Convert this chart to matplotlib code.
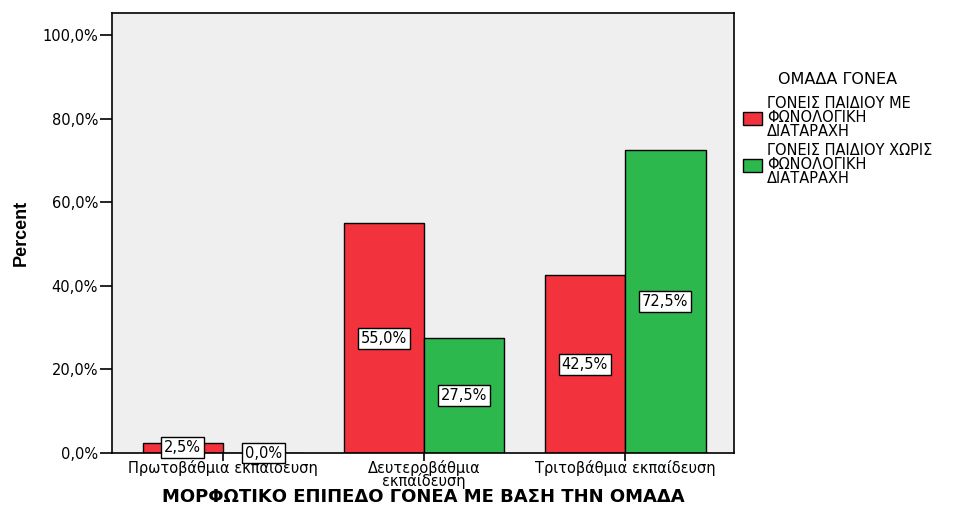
import matplotlib
matplotlib.use("Agg")
import matplotlib.pyplot as plt
import numpy as np
from matplotlib.ticker import FuncFormatter

plt.rcParams['font.family'] = ['DejaVu Sans']

categories = ["Πρωτοβάθμια εκπαίδευση", "Δευτεροβάθμια\nεκπαίδευση", "Τριτοβάθμια εκπαίδευση"]
with_disorder = [2.5, 55.0, 42.5]
without_disorder = [0.0, 27.5, 72.5]
series_labels = ["ΓΟΝΕΙΣ ΠΑΙΔΙΟΥ ΜΕ\nΦΩΝΟΛΟΓΙΚΗ\nΔΙΑΤΑΡΑΧΗ",
                 "ΓΟΝΕΙΣ ΠΑΙΔΙΟΥ ΧΩΡΙΣ\nΦΩΝΟΛΟΓΙΚΗ\nΔΙΑΤΑΡΑΧΗ"]
legend_title = "ΟΜΑΔΑ ΓΟΝΕΑ"
x_title = "ΜΟΡΦΩΤΙΚΟ ΕΠΙΠΕΔΟ ΓΟΝΕΑ ΜΕ ΒΑΣΗ ΤΗΝ ΟΜΑΔΑ"
y_title = "Percent"

red = "#F2333D"
green = "#2DB84D"

fig = plt.figure(figsize=(9.76, 5.07), dpi=100)
ax = fig.add_axes([0.1148, 0.1065, 0.6373, 0.8679])
ax.set_facecolor("#EFEFEF")

x = np.arange(len(categories))
w = 0.4
bars1 = ax.bar(x - w / 2, with_disorder, w, color=red, edgecolor="black", linewidth=1.0,
               label=series_labels[0])
bars2 = ax.bar(x + w / 2, without_disorder, w, color=green, edgecolor="black", linewidth=1.0,
               label=series_labels[1])

box = dict(boxstyle="square,pad=0.2", facecolor="white", edgecolor="black", linewidth=1.0)
for bars, vals in ((bars1, with_disorder), (bars2, without_disorder)):
    for b, v in zip(bars, vals):
        ax.text(b.get_x() + b.get_width() / 2, v / 2,
                f"{v:.1f}%".replace(".", ","), ha="center", va="center",
                fontsize=10.5, bbox=box, zorder=5)

ax.set_xlim(-0.552, 2.542)
ax.set_ylim(0, 105.3)
ax.set_yticks([0, 20, 40, 60, 80, 100])
ax.yaxis.set_major_formatter(FuncFormatter(lambda v, p: f"{v:.1f}%".replace(".", ",")))
ax.set_xticks(x)
ax.set_xticklabels(categories, fontsize=10.5, linespacing=0.75)
ax.tick_params(axis="y", labelsize=10.5, length=9, width=1.2, direction="out", pad=1)
ax.tick_params(axis="x", length=6, width=1.2, direction="out", pad=-1)
for s in ax.spines.values():
    s.set_linewidth(1.2)
    s.set_color("black")

fig.text(0.4334, 1 - 497 / 507, x_title, fontsize=13, fontweight="bold",
         ha="center", va="center")
ax.set_ylabel(y_title, fontsize=13, fontweight="bold", family="Liberation Sans")
ax.yaxis.set_label_coords(-0.132, 0.5)

leg = ax.legend(loc="upper left", bbox_to_anchor=(1.005, 0.88), frameon=False,
                title=legend_title, title_fontsize=11.5, fontsize=10.5,
                handlelength=1.3, handleheight=1.0, handletextpad=0.35,
                labelspacing=0.3, borderaxespad=0.0)
leg._legend_box.sep = 7
for t in leg.get_texts():
    t.set_linespacing(0.9)

fig.savefig("out.png", dpi=100)
